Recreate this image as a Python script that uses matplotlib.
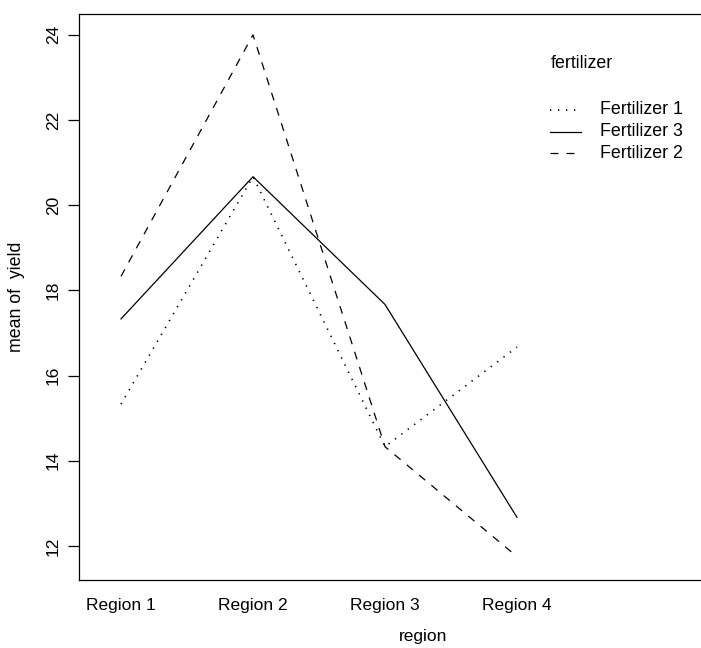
import matplotlib
matplotlib.use("Agg")
import matplotlib.pyplot as plt

plt.rcParams["font.family"] = ["Liberation Sans", "DejaVu Sans"]

regions = ["Region 1", "Region 2", "Region 3", "Region 4"]
series_names = ["Fertilizer 1", "Fertilizer 3", "Fertilizer 2"]
fert1 = [15.33, 20.67, 14.33, 16.67]
fert3 = [17.33, 20.67, 17.67, 12.67]
fert2 = [18.33, 24.0, 14.33, 11.75]
y_ticks = [12, 14, 16, 18, 20, 22, 24]

styles = [
    dict(linestyle=(0, (0.8, 4.0)), linewidth=1.2),
    dict(linestyle="-", linewidth=0.9),
    dict(linestyle=(0, (6.4, 6.4)), linewidth=0.9),
]

fig = plt.figure(figsize=(7.01, 6.48), dpi=100)
ax = fig.add_axes([79 / 701, 1 - 580 / 648, 1.0, 566 / 648])

xs = list(range(1, len(regions) + 1))
for vals, st in zip([fert1, fert3, fert2], styles):
    ax.plot(xs, vals, color="black", **st)

ax.set_xlim(1 - 42 / 132, 1 - 42 / 132 + 701 / 132)
ax.set_ylim(11.2, 24.49)
ax.set_xticks(xs)
ax.set_xticklabels(regions, fontsize=12.5)
ax.set_yticks(y_ticks)
ax.set_yticklabels([str(t) for t in y_ticks], fontsize=12.5, rotation=90, va="center")
ax.tick_params(axis="x", length=0, pad=13)
ax.tick_params(axis="y", length=8, width=0.9, pad=5)
for s in ax.spines.values():
    s.set_linewidth(0.9)

W = 701.0
H = 566.0
def fx(px):
    return (px - 79) / W
def fy(py):
    return (580 - py) / H

ax.text(fx(423), fy(636), "region", fontsize=12.5, ha="center", va="center", transform=ax.transAxes)
ax.text(fx(17), fy(297), "mean of  yield", fontsize=12.8, ha="center", va="center",
        rotation=90, transform=ax.transAxes)

# legend (manual, R-style)
ax.text(fx(551), fy(63), "fertilizer", fontsize=12.8, va="center", ha="left", transform=ax.transAxes)
rows = [110, 132, 153]
for name, st, ry in zip(series_names, styles, rows):
    ax.plot([fx(550), fx(581)], [fy(ry), fy(ry)], color="black", transform=ax.transAxes,
            clip_on=False, **st)
    ax.text(fx(600), fy(ry), name, fontsize=12.8, va="center", ha="left", transform=ax.transAxes)

fig.savefig("out.png", dpi=100)
